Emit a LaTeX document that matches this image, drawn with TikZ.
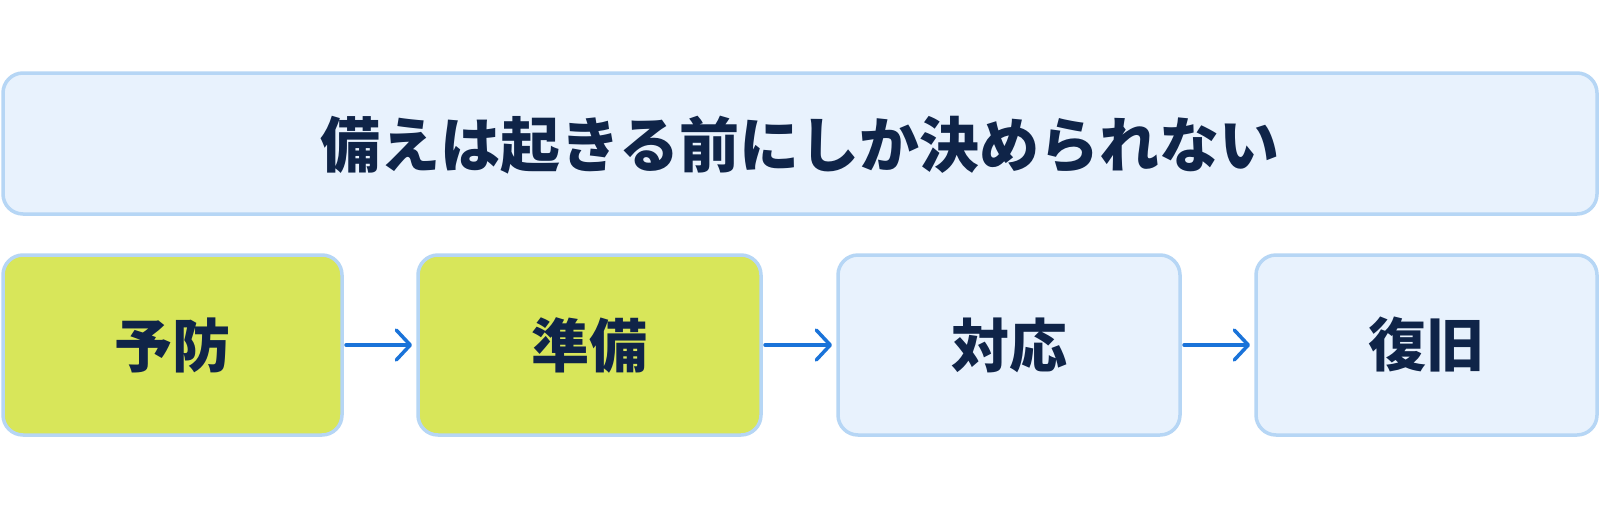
\documentclass[tikz,border=0pt]{standalone}
\usepackage{fontspec}
\newfontfamily\jp{Noto Sans CJK JP}
\usetikzlibrary{arrows.meta}
\definecolor{bordercol}{HTML}{B6D6F5}
\definecolor{lightfill}{HTML}{E8F2FD}
\definecolor{greenfill}{HTML}{D8E65A}
\definecolor{textcol}{HTML}{0F2448}
\definecolor{arrowcol}{HTML}{1A73D9}
\tikzset{
  panel/.style={draw=bordercol, line width=3.5pt, rounded corners=20pt, fill=lightfill, inner sep=0pt},
  greenpanel/.style={panel, fill=greenfill},
  label/.style={text=textcol, font=\jp\bfseries\fontsize{58}{60}\selectfont, inner sep=0pt},
  flow/.style={draw=arrowcol, line width=3.5pt, line cap=round, -{Straight Barb[length=14pt, width=30pt, line width=3.5pt, round]}, shorten >=3pt}
}
\begin{document}
\begin{tikzpicture}[x=1pt, y=-1pt]
\useasboundingbox (0,0) rectangle (1600,509);
\fill[white] (0,0) rectangle (1600,509);
% banner
\draw[panel] (3,73) rectangle (1597,214);
\node[label, font=\jp\bfseries\fontsize{60}{62}\selectfont] (title) at (800,145) {備えは起きる前にしか決められない};
% boxes
\draw[greenpanel] (3,255) rectangle (342,435);
\draw[greenpanel] (418,255) rectangle (761,435);
\draw[panel] (838,255) rectangle (1180,435);
\draw[panel] (1256,255) rectangle (1597,435);
\coordinate (b1) at (172.5,345);
\coordinate (b2) at (589.5,345);
\coordinate (b3) at (1009,345);
\coordinate (b4) at (1426.5,345);
\node[label] (t1) at (b1) {予防};
\node[label] (t2) at (b2) {準備};
\node[label] (t3) at (b3) {対応};
\node[label] (t4) at (b4) {復旧};
\coordinate (a1s) at (346,345); \coordinate (a1e) at (415,345);
\coordinate (a2s) at (765,345); \coordinate (a2e) at (835,345);
\coordinate (a3s) at (1184,345); \coordinate (a3e) at (1253,345);
\draw[flow] (a1s) -- (a1e);
\draw[flow] (a2s) -- (a2e);
\draw[flow] (a3s) -- (a3e);
\end{tikzpicture}
\end{document}
